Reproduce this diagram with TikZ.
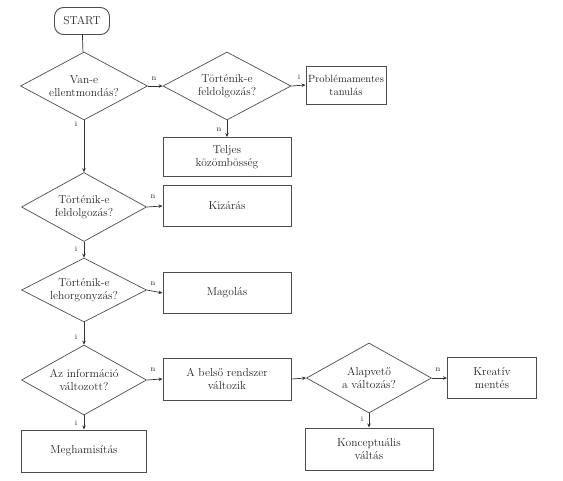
\documentclass[tikz,border=0pt]{standalone}
\usetikzlibrary{shapes.geometric,arrows.meta}
\begin{document}
\begin{tikzpicture}[x=1pt,y=-1pt,
  txt/.style={font=\fontsize{11.5}{13.5}\selectfont, align=center, text=black!85},
  box/.style={txt, draw=black!70, line width=1pt, rectangle, inner sep=1pt},
  dia/.style={txt, draw=black!70, line width=0.7pt, diamond, aspect=1.85, inner sep=0pt},
  conn/.style={draw=black!80, line width=0.7pt, -{Stealth[length=4pt,width=3.5pt]}},
  lab/.style={font=\footnotesize, text=black!85, inner sep=1pt}]
\useasboundingbox (0,0) rectangle (563,480);
\node[txt, draw=black!70, line width=0.9pt, rounded corners=9pt, minimum width=55pt, minimum height=27pt, inner sep=1pt] (start) at (82,21) {START};
\node[dia, minimum width=127pt, minimum height=68pt] (d1) at (84,86) {Van-e\\ellentmondás?};
\node[dia, minimum width=128pt, minimum height=68pt] (d2) at (227,86) {Történik-e\\feldolgozás?};
\node[box, minimum width=80pt, minimum height=38pt, font=\fontsize{10.5}{13}\selectfont] (prob) at (346,85) {Problémamentes\\tanulás};
\node[box, minimum width=128pt, minimum height=39pt] (telj) at (227,157) {Teljes\\közömbösség};
\node[box, minimum width=128pt, minimum height=41pt] (kiz) at (227,206) {Kizárás};
\node[dia, minimum width=125pt, minimum height=69pt] (d3) at (84,207) {Történik-e\\feldolgozás?};
\node[dia, minimum width=125pt, minimum height=64pt] (d4) at (84,290) {Történik-e\\lehorgonyzás?};
\node[box, minimum width=128pt, minimum height=41pt] (mag) at (227,293) {Magolás};
\node[dia, minimum width=125pt, minimum height=70pt] (d5) at (84,380) {Az információ\\változott?};
\node[box, minimum width=128pt, minimum height=42pt] (bel) at (227,379) {A belső rendszer\\változik};
\node[box, minimum width=125pt, minimum height=42pt] (megh) at (84,451) {Meghamisítás};
\node[dia, minimum width=125pt, minimum height=70pt] (d6) at (369,378) {Alapvető\\a változás?};
\node[box, minimum width=89pt, minimum height=41pt] (kre) at (492,378) {Kreatív\\mentés};
\node[box, minimum width=128pt, minimum height=42pt] (kon) at (369,449) {Konceptuális\\váltás};

\draw[draw=black!80, line width=0.7pt] (start) -- (d1);
\draw[conn] (d1.east) -- (d2.west);
\draw[conn] (d2.east) -- (prob.west);
\draw[conn] (d2.south) -- (telj.north);
\draw[conn] (d1.south) -- (d3.north);
\draw[conn] (d3.east) -- (kiz.west);
\draw[conn] (d3.south) -- (d4.north);
\draw[conn] (d4.east) -- (mag.west);
\draw[conn] (d4.south) -- (d5.north);
\draw[conn] (d5.east) -- (bel.west);
\draw[conn] (d5.south) -- (megh.north);
\draw[conn] (bel.east) -- (d6.west);
\draw[conn] (d6.east) -- (kre.west);
\draw[conn] (d6.south) -- (kon.north);

\node[lab] (l1) at (154,79) {n};
\node[lab] (l2) at (299,77) {i};
\node[lab] (l3) at (219,130) {n};
\node[lab] (l4) at (76,124) {i};
\node[lab] (l5) at (153,197) {n};
\node[lab] (l6) at (76,249) {i};
\node[lab] (l7) at (153,284) {n};
\node[lab] (l8) at (76,337) {i};
\node[lab] (l9) at (153,370) {n};
\node[lab] (l10) at (76,423) {i};
\node[lab] (l11) at (438,370) {n};
\node[lab] (l12) at (362,419) {i};
\end{tikzpicture}
\end{document}
